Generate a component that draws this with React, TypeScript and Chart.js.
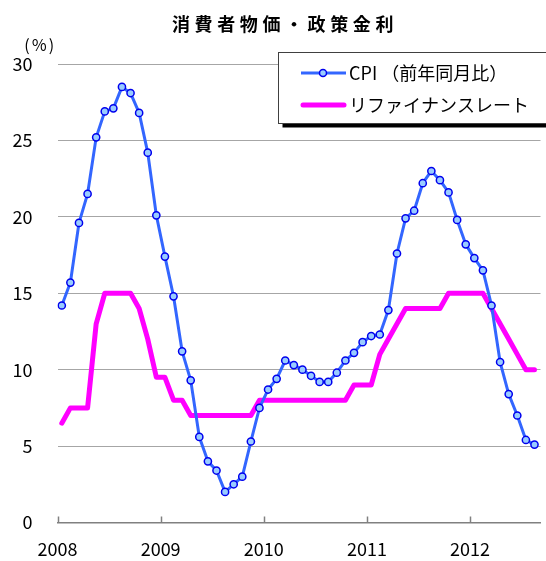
import React, { useEffect, useRef } from 'react';
import { Chart, registerables } from 'chart.js';

Chart.register(...registerables);

// ---- data ----
const chartTitle = '消費者物価・政策金利';
const yUnit = '(％)';
const years = ['2008', '2009', '2010', '2011', '2012'];
const months = [
  '2008-01', '2008-02', '2008-03', '2008-04', '2008-05', '2008-06', '2008-07', '2008-08', '2008-09', '2008-10', '2008-11', '2008-12',
  '2009-01', '2009-02', '2009-03', '2009-04', '2009-05', '2009-06', '2009-07', '2009-08', '2009-09', '2009-10', '2009-11', '2009-12',
  '2010-01', '2010-02', '2010-03', '2010-04', '2010-05', '2010-06', '2010-07', '2010-08', '2010-09', '2010-10', '2010-11', '2010-12',
  '2011-01', '2011-02', '2011-03', '2011-04', '2011-05', '2011-06', '2011-07', '2011-08', '2011-09', '2011-10', '2011-11', '2011-12',
  '2012-01', '2012-02', '2012-03', '2012-04', '2012-05', '2012-06', '2012-07', '2012-08',
];
const cpiLabel = 'CPI （前年同月比）';
const cpi = [
  14.2, 15.7, 19.6, 21.5, 25.2, 26.9, 27.1, 28.5, 28.1, 26.8, 24.2, 20.1,
  17.4, 14.8, 11.2, 9.3, 5.6, 4.0, 3.4, 2.0, 2.5, 3.0, 5.3, 7.5,
  8.7, 9.4, 10.6, 10.3, 10.0, 9.6, 9.2, 9.2, 9.8, 10.6, 11.1, 11.8,
  12.2, 12.3, 13.9, 17.6, 19.9, 20.4, 22.2, 23.0, 22.4, 21.6, 19.8, 18.2,
  17.3, 16.5, 14.2, 10.5, 8.4, 7.0, 5.4, 5.1,
];
const rateLabel = 'リファイナンスレート';
const rate = [
  6.5, 7.5, 7.5, 7.5, 13, 15, 15, 15, 15, 14, 12, 9.5,
  9.5, 8, 8, 7, 7, 7, 7, 7, 7, 7, 7, 8,
  8, 8, 8, 8, 8, 8, 8, 8, 8, 8, 9, 9,
  9, 11, 12, 13, 14, 14, 14, 14, 14, 15, 15, 15,
  15, 15, 14, 13, 12, 11, 10, 10,
];
const yTicks = [0, 5, 10, 15, 20, 25, 30];

const FONT = '"Noto Sans CJK JP", "Noto Sans", sans-serif';
const CPI_LINE = '#3366FF';
const CPI_MARK_FILL = '#99CCFF';
const CPI_MARK_BORDER = '#0000EE';
const RATE_LINE = '#FF00FF';
const AXIS = '#808080';

const decorPlugin = {
  id: 'decor',
  afterDraw(chart: any) {
    const ctx = chart.ctx as CanvasRenderingContext2D;
    const area = chart.chartArea;
    const xs = chart.scales.x;

    // inward tick marks on x axis
    ctx.save();
    ctx.strokeStyle = AXIS;
    ctx.lineWidth = 1.5;
    xs.ticks.forEach((t: any) => {
      const px = Math.round(xs.getPixelForValue(t.value)) + 0.5;
      ctx.beginPath();
      ctx.moveTo(px, area.bottom);
      ctx.lineTo(px, area.bottom - 6);
      ctx.stroke();
    });
    ctx.restore();

    // title
    ctx.save();
    ctx.fillStyle = '#000';
    ctx.font = `bold 18px ${FONT}`;
    (ctx as any).letterSpacing = '4.6px';
    ctx.textAlign = 'center';
    ctx.textBaseline = 'middle';
    ctx.fillText(chartTitle, 285, 24);
    ctx.restore();

    // y unit
    ctx.save();
    ctx.fillStyle = '#000';
    ctx.font = `16px ${FONT}`;
    (ctx as any).letterSpacing = '1.5px';
    ctx.textAlign = 'center';
    ctx.textBaseline = 'middle';
    ctx.fillText(yUnit, 40, 45);
    ctx.restore();

    // legend box
    const bx = 278.5, by = 52.5, bw = 400, bh = 71;
    ctx.save();
    ctx.fillStyle = '#000';
    ctx.fillRect(bx + 4, by + 4, bw, bh);
    ctx.fillStyle = '#fff';
    ctx.fillRect(bx, by, bw, bh);
    ctx.strokeStyle = '#404040';
    ctx.lineWidth = 1;
    ctx.strokeRect(bx, by, bw, bh);

    const ds = chart.data.datasets;
    // CPI sample
    ctx.strokeStyle = CPI_LINE;
    ctx.lineWidth = 3;
    ctx.beginPath();
    ctx.moveTo(301, 73);
    ctx.lineTo(346, 73);
    ctx.stroke();
    ctx.beginPath();
    ctx.arc(323, 73, 3.5, 0, Math.PI * 2);
    ctx.fillStyle = CPI_MARK_FILL;
    ctx.fill();
    ctx.lineWidth = 1.5;
    ctx.strokeStyle = CPI_MARK_BORDER;
    ctx.stroke();
    // rate sample
    ctx.strokeStyle = RATE_LINE;
    ctx.lineWidth = 5;
    ctx.lineCap = 'round';
    ctx.beginPath();
    ctx.moveTo(303, 105);
    ctx.lineTo(344, 105);
    ctx.stroke();

    ctx.fillStyle = '#000';
    ctx.font = `18px ${FONT}`;
    ctx.textAlign = 'left';
    ctx.textBaseline = 'middle';
    ctx.fillText(ds[0].label, 349, 73);
    ctx.fillText(ds[1].label, 349, 105);
    ctx.restore();
  },
};

export default function App() {
  const ref = useRef<HTMLCanvasElement>(null);

  useEffect(() => {
    const chart = new Chart(ref.current as HTMLCanvasElement, {
      type: 'line',
      data: {
        datasets: [
          {
            label: cpiLabel,
            data: cpi.map((v, i) => ({ x: i, y: v })),
            borderColor: CPI_LINE,
            borderWidth: 3,
            pointRadius: 3.6,
            pointBorderWidth: 1.5,
            pointBackgroundColor: CPI_MARK_FILL,
            pointBorderColor: CPI_MARK_BORDER,
            tension: 0,
            borderJoinStyle: 'round',
          },
          {
            label: rateLabel,
            data: rate.map((v, i) => ({ x: i, y: v })),
            borderColor: RATE_LINE,
            borderWidth: 5,
            pointRadius: 0,
            tension: 0,
            borderJoinStyle: 'round',
            borderCapStyle: 'round',
          },
        ],
      },
      options: {
        animation: false,
        responsive: false,
        devicePixelRatio: 1,
        layout: { padding: { top: 64, right: 0, left: 0, bottom: 0 } },
        plugins: {
          legend: { display: false },
          title: { display: false },
          tooltip: { enabled: false },
        },
        scales: {
          x: {
            type: 'linear',
            min: -0.5,
            max: 55.7,
            afterBuildTicks: (scale: any) => {
              scale.ticks = years.map((_, k) => ({ value: k * 12 - 0.5 }));
            },
            afterFit: (scale: any) => {
              scale.height = 38.5;
            },
            grid: { display: false, drawTicks: false },
            border: { display: true, color: AXIS, width: 1.5 },
            ticks: {
              autoSkip: false,
              maxRotation: 0,
              padding: 16,
              color: '#000',
              font: { family: FONT, size: 18 },
              callback: (value: any) => years[Math.round((Number(value) + 0.5) / 12)] ?? '',
            },
          },
          y: {
            min: 0,
            max: 30,
            afterBuildTicks: (scale: any) => {
              scale.ticks = yTicks.map((v) => ({ value: v }));
            },
            afterFit: (scale: any) => {
              scale.width = 57.5;
            },
            grid: {
              drawTicks: false,
              color: (c: any) => (c.tick && c.tick.value === 0 ? 'rgba(0,0,0,0)' : '#A6A6A6'),
              lineWidth: 1,
            },
            border: { display: false },
            ticks: {
              padding: 25,
              color: '#000',
              font: { family: FONT, size: 18 },
            },
          },
        },
      },
      plugins: [decorPlugin],
    } as any);
    return () => chart.destroy();
  }, []);

  return (
    <div
      style={{
        position: 'fixed',
        left: 0,
        top: 0,
        width: 546,
        height: 561,
        overflow: 'hidden',
        background: '#fff',
      }}
    >
      <canvas ref={ref} width={546} height={561} style={{ display: 'block', width: 546, height: 561 }} />
    </div>
  );
}
